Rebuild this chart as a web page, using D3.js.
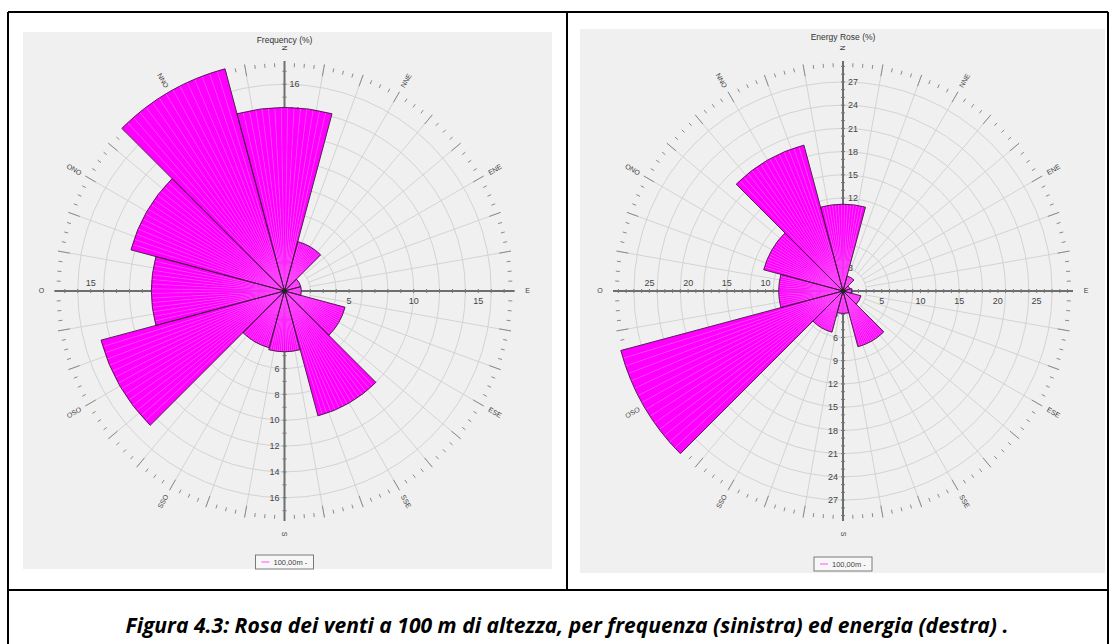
<!DOCTYPE html>
<html>
<head>
<meta charset="utf-8">
<script src="https://cdn.jsdelivr.net/npm/d3@7"></script>
<style>
body { margin: 0; background: #fff; }
text { font-family: "Liberation Sans", Arial, sans-serif; }
</style>
</head>
<body>
<script>
// sectors (12 x 30 deg, italian names)
const directions = ["N", "NNE", "ENE", "E", "ESE", "SSE", "S", "SSO", "OSO", "O", "ONO", "NNO"];
const bearings = [0, 30, 60, 90, 120, 150, 180, 210, 240, 270, 300, 330];

// frequency rose (%)
const freqValues = [14.2, 3.95, 1.3, 1.3, 4.85, 10.0, 4.7, 4.55, 14.7, 10.3, 12.3, 17.8];
const freqRingTicks = [0, 2, 4, 6, 8, 10, 12, 14, 16];
const freqAxisTicks = [5, 10, 15];

// energy rose (%)
const energyValues = [11.2, 2.0, 0.9, 1.1, 2.4, 7.45, 2.9, 5.5, 29.7, 8.3, 10.6, 19.5];
const energyRingTicks = [0, 3, 6, 9, 12, 15, 18, 21, 24, 27];
const energyAxisTicks = [5, 10, 15, 20, 25];

const legendLabel = "100,00m -";
const caption = "Figura 4.3: Rosa dei venti a 100 m di altezza, per frequenza (sinistra) ed energia (destra) .";

const width = 1110, height = 644;
const R = 230;
const rad = a => a * Math.PI / 180;

const svg = d3.select("body").append("svg")
  .attr("width", width)
  .attr("height", height);

function drawRose(p) {
  const g = svg.append("g");

  g.append("rect")
    .attr("x", p.bg[0]).attr("y", p.bg[1])
    .attr("width", p.bg[2] - p.bg[0]).attr("height", p.bg[3] - p.bg[1])
    .attr("fill", "#f0f0f0");

  const r = d3.scaleLinear().domain([0, d3.max(p.values)]).range([0, R]);
  const c = g.append("g").attr("transform", `translate(${p.cx},${p.cy})`);

  // grid circles
  c.selectAll("circle.ring").data(p.ringTicks.filter(v => v > 0)).join("circle")
    .attr("class", "ring")
    .attr("r", d => r(d))
    .attr("fill", "none")
    .attr("stroke", "#d3d3d3")
    .attr("stroke-width", 1);

  // spokes every 10 deg
  const r0 = r(p.ringTicks[1]);
  c.selectAll("line.spoke").data(d3.range(0, 360, 10)).join("line")
    .attr("class", "spoke")
    .attr("x1", a => r0 * Math.sin(rad(a))).attr("y1", a => -r0 * Math.cos(rad(a)))
    .attr("x2", a => R * Math.sin(rad(a))).attr("y2", a => -R * Math.cos(rad(a)))
    .attr("stroke", "#d3d3d3")
    .attr("stroke-width", 1);

  // outer tick ring
  c.selectAll("line.tk").data(d3.range(0, 360, 2.5)).join("line")
    .attr("class", "tk")
    .each(function(a) {
      const major = a % 10 === 0;
      const ri = major ? R - 12 : R - 6, ro = major ? R : R - 2;
      d3.select(this)
        .attr("x1", ri * Math.sin(rad(a))).attr("y1", -ri * Math.cos(rad(a)))
        .attr("x2", ro * Math.sin(rad(a))).attr("y2", -ro * Math.cos(rad(a)));
    })
    .attr("stroke", "#8a8a8a")
    .attr("stroke-width", 1);

  // axes
  c.append("line").attr("x1", -R).attr("x2", R).attr("y1", 0).attr("y2", 0)
    .attr("stroke", "#6e6e6e").attr("stroke-width", 2);
  c.append("line").attr("x1", 0).attr("x2", 0).attr("y1", -R).attr("y2", R)
    .attr("stroke", "#6e6e6e").attr("stroke-width", 2);

  // small ticks along the axes, one per unit
  const minor = d3.range(1, d3.max(p.values), 1);
  const signed = minor.flatMap(v => [r(v), -r(v)]);
  c.selectAll("line.vt").data(signed).join("line")
    .attr("class", "vt")
    .attr("x1", -2).attr("x2", 2)
    .attr("y1", d => d).attr("y2", d => d)
    .attr("stroke", "#777").attr("stroke-width", 1);
  c.selectAll("line.ht").data(signed).join("line")
    .attr("class", "ht")
    .attr("y1", -2).attr("y2", 2)
    .attr("x1", d => d).attr("x2", d => d)
    .attr("stroke", "#777").attr("stroke-width", 1);

  // axis labels
  c.selectAll("text.vn").data(p.ringTicks).join("text")
    .attr("class", "vn")
    .attr("x", 5).attr("y", d => -r(d)).attr("dy", "0.35em")
    .attr("font-size", 9).attr("fill", "#444")
    .text(d => d);
  c.selectAll("text.vs").data(p.ringTicks.filter(v => v > 0)).join("text")
    .attr("class", "vs")
    .attr("x", -5).attr("y", d => r(d)).attr("dy", "0.35em")
    .attr("text-anchor", "end")
    .attr("font-size", 9).attr("fill", "#444")
    .text(d => d);
  c.selectAll("text.he").data(p.axisTicks).join("text")
    .attr("class", "he")
    .attr("x", d => r(d)).attr("y", 13)
    .attr("text-anchor", "middle")
    .attr("font-size", 9).attr("fill", "#444")
    .text(d => d);
  c.selectAll("text.hw").data(p.axisTicks).join("text")
    .attr("class", "hw")
    .attr("x", d => -r(d)).attr("y", -5)
    .attr("text-anchor", "middle")
    .attr("font-size", 9).attr("fill", "#444")
    .text(d => d);

  // bars, drawn as thin slices for the rendered texture
  const arc = d3.arc().innerRadius(0);
  const bars = c.append("g");
  p.values.forEach((v, i) => {
    const b = bearings[i];
    bars.append("g").selectAll("path").data(d3.range(0, 30, 2)).join("path")
      .attr("d", s => arc({ outerRadius: r(v), startAngle: rad(b - 15 + s), endAngle: rad(b - 13 + s) }))
      .attr("fill", "#ff00ff")
      .attr("stroke", "#ff55ff")
      .attr("stroke-width", 0.35);
  });
  bars.selectAll("path.outline").data(p.values).join("path")
    .attr("class", "outline")
    .attr("d", (v, i) => arc({ outerRadius: r(v), startAngle: rad(bearings[i] - 15), endAngle: rad(bearings[i] + 15) }))
    .attr("fill", "none")
    .attr("stroke", "#3c1a3c")
    .attr("stroke-width", 0.9);
  c.append("circle").attr("r", 2.5).attr("fill", "#222");

  // direction labels, radial, kept readable on the west half
  c.selectAll("text.dir").data(directions).join("text")
    .attr("class", "dir")
    .attr("transform", (d, i) => {
      const a = bearings[i];
      const rot = a > 180 ? a - 270 : a - 90;
      return `translate(${243 * Math.sin(rad(a))},${-243 * Math.cos(rad(a))}) rotate(${rot})`;
    })
    .attr("text-anchor", "middle").attr("dy", "0.35em")
    .attr("font-size", 7).attr("fill", "#444")
    .text(d => d);

  // title
  g.append("text")
    .attr("x", p.cx).attr("y", p.titleY)
    .attr("text-anchor", "middle")
    .attr("font-size", 8.5).attr("fill", "#333")
    .text(p.title);

  // legend
  const lg = g.append("g").attr("transform", `translate(${p.cx - 29},${p.legendY})`);
  lg.append("rect").attr("width", 58).attr("height", 14)
    .attr("fill", "#f7f7f7").attr("stroke", "#7a7a7a").attr("stroke-width", 1);
  lg.append("line").attr("x1", 6).attr("x2", 14).attr("y1", 7).attr("y2", 7)
    .attr("stroke", "#ff88ff").attr("stroke-width", 1.5);
  lg.append("text").attr("x", 18).attr("y", 10)
    .attr("font-size", 7.5).attr("fill", "#444")
    .text(legendLabel);
}

drawRose({ title: "Frequency (%)", values: freqValues, ringTicks: freqRingTicks, axisTicks: freqAxisTicks,
  cx: 284.5, cy: 291, bg: [23, 32, 552, 569], titleY: 43, legendY: 555 });
drawRose({ title: "Energy Rose (%)", values: energyValues, ringTicks: energyRingTicks, axisTicks: energyAxisTicks,
  cx: 843, cy: 291, bg: [580, 29, 1105, 573], titleY: 40, legendY: 557 });

// frame
const frame = svg.append("g").attr("stroke", "#000").attr("stroke-width", 2);
frame.append("line").attr("x1", 8).attr("x2", 1108).attr("y1", 12).attr("y2", 12);
frame.append("line").attr("x1", 8).attr("x2", 8).attr("y1", 12).attr("y2", 644);
frame.append("line").attr("x1", 1108).attr("x2", 1108).attr("y1", 12).attr("y2", 644);
frame.append("line").attr("x1", 567).attr("x2", 567).attr("y1", 12).attr("y2", 590);
frame.append("line").attr("x1", 8).attr("x2", 1108).attr("y1", 590).attr("y2", 590);

svg.append("text")
  .attr("x", 567).attr("y", 633)
  .attr("text-anchor", "middle")
  .attr("textLength", 883).attr("lengthAdjust", "spacingAndGlyphs")
  .style("font-family", "'Open Sans', sans-serif")
  .style("font-weight", "bold").style("font-style", "italic")
  .attr("font-size", 21)
  .text(caption);
</script>
</body>
</html>
